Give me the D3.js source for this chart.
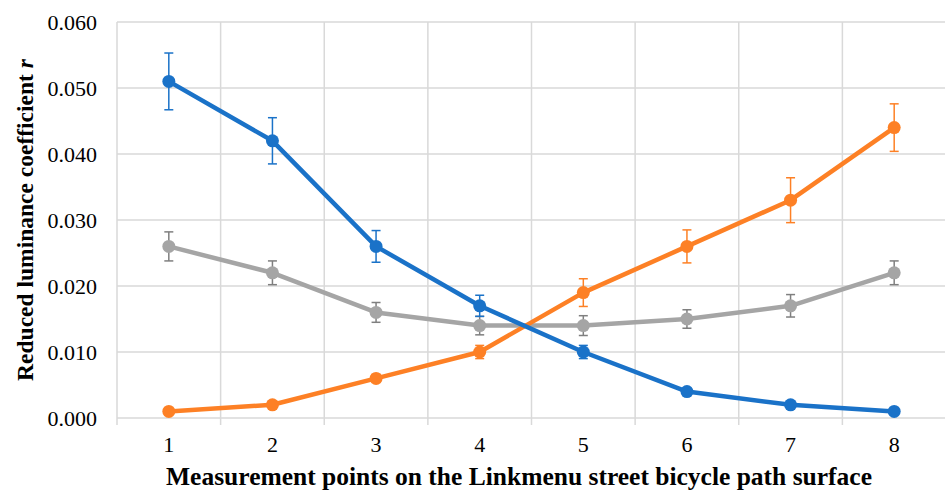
<!DOCTYPE html>
<html>
<head>
<meta charset="utf-8">
<script src="https://cdn.jsdelivr.net/npm/d3@7"></script>
<style>
  body { margin: 0; background: #fff; }
  svg text { font-family: "Liberation Serif", "Times New Roman", serif; fill: #000; }
</style>
</head>
<body>
<svg id="svg" width="945" height="492"></svg>
<script>
// data
var points = ["1", "2", "3", "4", "5", "6", "7", "8"];
var yTicks = [0, 0.01, 0.02, 0.03, 0.04, 0.05, 0.06];

var blueVals = [0.051, 0.042, 0.026, 0.017, 0.010, 0.004, 0.002, 0.001];
var blueErr  = [0.0043, 0.0035, 0.0024, 0.0016, 0.0010, 0.0004, 0.0002, 0.0001];
var orangeVals = [0.001, 0.002, 0.006, 0.010, 0.019, 0.026, 0.033, 0.044];
var orangeErr  = [0.0001, 0.0002, 0.0006, 0.0010, 0.0021, 0.0025, 0.0034, 0.0036];
var grayVals = [0.026, 0.022, 0.016, 0.014, 0.014, 0.015, 0.017, 0.022];
var grayErr  = [0.0022, 0.0018, 0.0015, 0.0014, 0.0015, 0.0014, 0.0017, 0.0018];

var series = [
  { vals: grayVals, err: grayErr, color: "#a5a5a5", errColor: "#7f7f7f" },
  { vals: orangeVals, err: orangeErr, color: "#fd8025", errColor: "#fd8025" },
  { vals: blueVals, err: blueErr, color: "#1a72c8", errColor: "#1a72c8" }
];

var svg = d3.select("#svg"),
    plotLeft = 117, plotRight = 946, plotTop = 22, plotBottom = 418;

var x = d3.scaleBand().domain(points).range([plotLeft, plotRight]);
var y = d3.scaleLinear().domain([0, 0.06]).range([plotBottom, plotTop]);

// horizontal grid
svg.append("g")
  .selectAll("line")
  .data(yTicks)
  .enter().append("line")
    .attr("x1", plotLeft).attr("x2", plotRight)
    .attr("y1", function(d) { return y(d); })
    .attr("y2", function(d) { return y(d); })
    .attr("stroke", "#d9d9d9")
    .attr("stroke-width", 1.5);

// vertical grid at band edges, poking below the axis as ticks
var edges = points.map(function(p) { return x(p); }).concat([plotRight]);
svg.append("g")
  .selectAll("line")
  .data(edges)
  .enter().append("line")
    .attr("x1", function(d) { return d; }).attr("x2", function(d) { return d; })
    .attr("y1", plotTop).attr("y2", plotBottom + 7)
    .attr("stroke", "#d9d9d9")
    .attr("stroke-width", 1.5);

// y tick labels
svg.append("g")
  .selectAll("text")
  .data(yTicks)
  .enter().append("text")
    .attr("x", 97)
    .attr("y", function(d) { return y(d); })
    .attr("dy", "0.35em")
    .attr("text-anchor", "end")
    .attr("font-size", 22)
    .text(d3.format(".3f"));

// x tick labels
svg.append("g")
  .selectAll("text")
  .data(points)
  .enter().append("text")
    .attr("x", function(d) { return x(d) + x.bandwidth() / 2; })
    .attr("y", 452)
    .attr("text-anchor", "middle")
    .attr("font-size", 22)
    .text(function(d) { return d; });

var cx = function(d, i) { return x(points[i]) + x.bandwidth() / 2; };

var line = d3.line()
  .x(function(d, i) { return cx(d, i); })
  .y(function(d) { return y(d); });

series.forEach(function(s) {
  var g = svg.append("g");
  g.append("path")
    .datum(s.vals)
    .attr("fill", "none")
    .attr("stroke", s.color)
    .attr("stroke-width", 4.5)
    .attr("stroke-linejoin", "round")
    .attr("d", line);

  var eb = g.selectAll(".err")
    .data(s.vals)
    .enter().append("g")
      .attr("stroke", s.errColor)
      .attr("stroke-width", 1.5);
  eb.append("line")
    .attr("x1", cx).attr("x2", cx)
    .attr("y1", function(d, i) { return y(d + s.err[i]); })
    .attr("y2", function(d, i) { return y(d - s.err[i]); });
  eb.append("line")
    .attr("x1", function(d, i) { return cx(d, i) - 4.5; })
    .attr("x2", function(d, i) { return cx(d, i) + 4.5; })
    .attr("y1", function(d, i) { return y(d + s.err[i]); })
    .attr("y2", function(d, i) { return y(d + s.err[i]); });
  eb.append("line")
    .attr("x1", function(d, i) { return cx(d, i) - 4.5; })
    .attr("x2", function(d, i) { return cx(d, i) + 4.5; })
    .attr("y1", function(d, i) { return y(d - s.err[i]); })
    .attr("y2", function(d, i) { return y(d - s.err[i]); });

  g.selectAll("circle")
    .data(s.vals)
    .enter().append("circle")
      .attr("cx", cx)
      .attr("cy", function(d) { return y(d); })
      .attr("r", 6.5)
      .attr("fill", s.color);
});

// axis titles
svg.append("text")
  .attr("x", 519)
  .attr("y", 485)
  .attr("text-anchor", "middle")
  .attr("font-size", 25.5)
  .attr("font-weight", "bold")
  .text("Measurement points on the Linkmenu street bicycle path surface");

var yt = svg.append("text")
  .attr("transform", "translate(33,220) rotate(-90)")
  .attr("text-anchor", "middle")
  .attr("font-size", 23.5)
  .attr("font-weight", "bold");
yt.append("tspan").text("Reduced luminance coefficient ");
yt.append("tspan").attr("font-style", "italic").text("r");
</script>
</body>
</html>
